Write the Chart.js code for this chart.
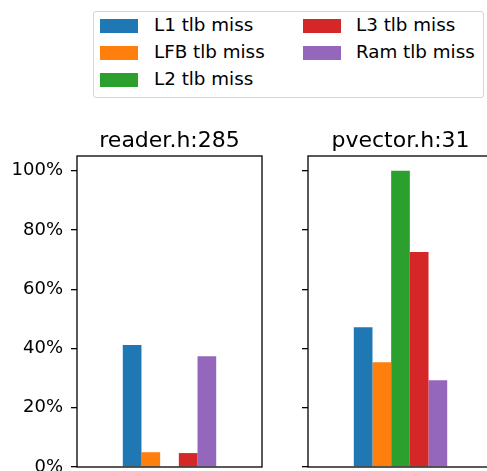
<!DOCTYPE html>
<html>
<head>
<meta charset="utf-8">
<script src="https://cdn.jsdelivr.net/npm/chart.js@4.4.0/dist/chart.umd.min.js"></script>
<style>
    html, body {
        margin: 0;
        padding: 0;
        width: 487px;
        height: 471px;
        overflow: hidden;
        background: #fff;
        font-family: "DejaVu Sans", sans-serif;
    }
    canvas {
        position: absolute;
    }
    #legend {
        position: absolute;
        left: 93px;
        top: 11px;
        width: 389px;
        height: 85px;
        border: 1px solid #d6d6d6;
        border-radius: 3px;
        background: #fff;
    }
    .item {
        position: absolute;
        font-size: 18.3px;
        line-height: 22px;
        color: #000;
        white-space: nowrap;
    }
    .swatch {
        position: absolute;
        width: 38px;
        height: 14px;
    }
</style>
</head>
<body>
<div id="legend"></div>
<canvas id="readerChart"></canvas>
<canvas id="pvectorChart"></canvas>
<script>
// series + values (percent of total)
const seriesNames = ["L1 tlb miss", "LFB tlb miss", "L2 tlb miss", "L3 tlb miss", "Ram tlb miss"];
const panelTitles = ["reader.h:285", "pvector.h:31"];
const readerValues = [41.2, 5.0, 0, 4.7, 37.4];
const pvectorValues = [47.2, 35.4, 100, 72.6, 29.3];
const yTicks = [0, 20, 40, 60, 80, 100];

const colors = ["#1f77b4", "#ff7f0e", "#2ca02c", "#d62728", "#9467bd"];

// frame around the plot area (matplotlib spines) + title centred on the plot area
const framePlugin = {
    id: "panelTitle",
    afterDraw(chart, args, opts) {
        const a = chart.chartArea;
        const ctx = chart.ctx;
        ctx.save();
        ctx.strokeStyle = "#000";
        ctx.lineWidth = 1.3;
        ctx.strokeRect(a.left, a.top, a.right - a.left, a.bottom - a.top);

        ctx.fillStyle = "#000";
        ctx.font = "22px 'DejaVu Sans'";
        ctx.textAlign = "center";
        ctx.textBaseline = "alphabetic";
        ctx.fillText(opts.text, (a.left + a.right) / 2, a.top - 9.5);
        ctx.restore();
    }
};

function buildLegend() {
    const legend = document.getElementById("legend");
    seriesNames.forEach((name, i) => {
        const col = i < 3 ? 0 : 1;
        const row = i < 3 ? i : i - 3;
        const sw = document.createElement("div");
        sw.className = "swatch";
        sw.style.background = colors[i];
        sw.style.left = (col === 0 ? 6 : 209) + "px";
        sw.style.top = (7 + row * 27) + "px";
        legend.appendChild(sw);

        const txt = document.createElement("div");
        txt.className = "item";
        txt.innerText = name;
        txt.style.left = (col === 0 ? 60 : 262) + "px";
        txt.style.top = (2.4 + row * 27) + "px";
        legend.appendChild(txt);
    });
}

function makeChart(id, title, values, left, axisWidth, showLabels) {
    const canvas = document.getElementById(id);
    const width = axisWidth + 185 + 2;
    const height = 367;
    canvas.width = width;
    canvas.height = height;
    canvas.style.width = width + "px";
    canvas.style.height = height + "px";
    canvas.style.left = left + "px";
    canvas.style.top = "120px";

    return new Chart(canvas, {
        type: "bar",
        data: {
            labels: [""],
            datasets: seriesNames.map((name, i) => ({
                label: name,
                data: [values[i]],
                backgroundColor: colors[i],
                borderWidth: 0
            }))
        },
        options: {
            responsive: false,
            devicePixelRatio: 1,
            animation: false,
            categoryPercentage: 0.505,
            barPercentage: 1.0,
            layout: {
                padding: { left: 0, right: 2, top: 36, bottom: 0 }
            },
            scales: {
                x: {
                    ticks: { display: false },
                    grid: { display: false },
                    border: { display: false },
                    afterFit: function (scale) {
                        scale.height = 20;
                    }
                },
                y: {
                    min: 0,
                    max: 105,
                    afterBuildTicks: function (scale) {
                        scale.ticks = yTicks.map(v => ({ value: v }));
                    },
                    afterFit: function (scale) {
                        scale.width = axisWidth;
                    },
                    ticks: {
                        display: showLabels,
                        color: "#000",
                        padding: 8,
                        font: { family: "DejaVu Sans", size: 18 },
                        callback: function (value) {
                            return value + "%";
                        }
                    },
                    grid: {
                        drawOnChartArea: false,
                        drawTicks: true,
                        tickLength: 6,
                        color: "#000",
                        lineWidth: 1.3
                    },
                    border: { display: false }
                }
            },
            plugins: {
                legend: { display: false },
                tooltip: { enabled: false },
                title: { display: false },
                panelTitle: { text: title }
            }
        },
        plugins: [framePlugin]
    });
}

buildLegend();
makeChart("readerChart", panelTitles[0], readerValues, 0, 77, true);
makeChart("pvectorChart", panelTitles[1], pvectorValues, 288, 20, false);
</script>
</body>
</html>
